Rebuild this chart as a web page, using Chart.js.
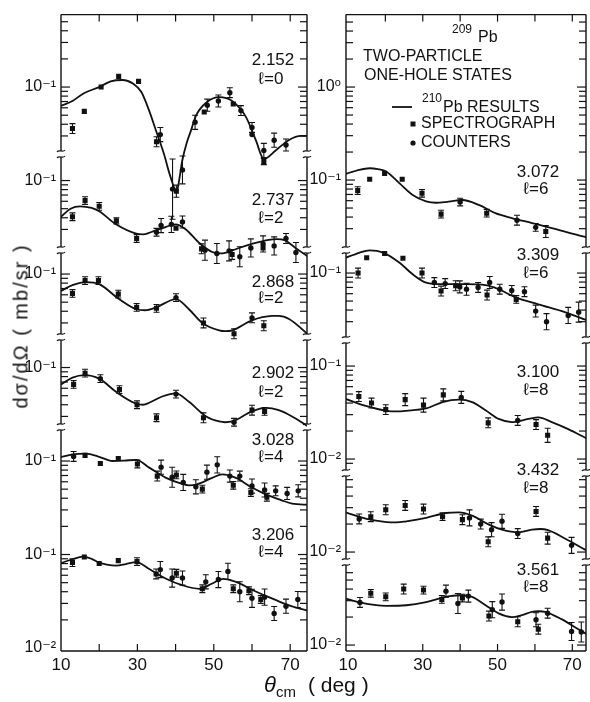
<!DOCTYPE html>
<html>
<head>
<meta charset="utf-8">
<script src="https://cdn.jsdelivr.net/npm/chart.js@4.4.1/dist/chart.umd.min.js"></script>
<style>
  body { margin: 0; background: #fff; }
  #wrap { position: relative; width: 590px; height: 702px; overflow: hidden; background: #fff; }
  canvas { position: absolute; top: 0; }
  #left { left: 0; }
  #right { left: 310px; }
  .title { position: absolute; font-family: "Liberation Sans", Arial, sans-serif; color: #111; white-space: nowrap; }
  #ytitle { left: 21px; top: 326px; font-size: 20px; letter-spacing: 2px; transform: translate(-50%, -50%) rotate(-90deg); }
  #xtitle { left: 264px; top: 672px; font-size: 21px; }
  #xtitle i { font-size: 22px; }
  #xtitle sub { font-size: 15px; vertical-align: -5px; margin-right: 12px; }
</style>
</head>
<body>
<div id="wrap">
  <canvas id="left" width="320" height="702"></canvas>
  <canvas id="right" width="280" height="702"></canvas>
  <div class="title" id="ytitle">dσ/dΩ ( mb/sr )</div>
  <div class="title" id="xtitle"><i>θ</i><sub>cm</sub>( deg )</div>
</div>
<script>
var INK = '#111';

// curves: [theta_cm (deg), dsigma/dOmega (mb/sr)]
var fit2152 = [[10,0.063],[13,0.071],[16,0.086],[20,0.100],[23,0.115],[26,0.119],[29,0.108],[31,0.089],[33,0.057],[35,0.033],[37,0.019],[38.5,0.0115],[40.3,0.0077],[41,0.0105],[41.7,0.016],[43,0.026],[44,0.034],[45.4,0.050],[48,0.068],[51.4,0.078],[54.8,0.071],[58.4,0.048],[61,0.027],[63.1,0.017],[66.2,0.021],[69.6,0.027],[72.8,0.030],[75,0.030]];
var fit2737 = [[10,0.041],[12.5,0.050],[15,0.053],[18,0.051],[20,0.047],[24.4,0.034],[29.7,0.027],[31.5,0.0265],[33.5,0.028],[37.5,0.032],[40,0.034],[42.7,0.030],[46.2,0.0215],[49.6,0.0172],[51.5,0.0166],[53.5,0.0171],[56.6,0.019],[60,0.021],[64.4,0.0232],[66.5,0.0236],[68.5,0.0231],[71.4,0.019],[75,0.015]];
var fit2868 = [[10,0.066],[13,0.076],[16.5,0.082],[20,0.078],[25.2,0.054],[29.7,0.042],[32,0.041],[34.9,0.044],[40.1,0.054],[43.5,0.042],[47,0.030],[51.4,0.025],[53,0.0245],[54.8,0.025],[60,0.032],[65.3,0.0356],[67,0.0357],[69.7,0.033],[75,0.022]];
var fit2902 = [[10,0.066],[13,0.078],[16.1,0.083],[20,0.076],[24.4,0.055],[29.7,0.041],[31.5,0.040],[33.1,0.042],[36.5,0.049],[40.1,0.053],[43.5,0.043],[48,0.030],[51.4,0.0265],[53,0.026],[54.8,0.0265],[60,0.034],[63.6,0.037],[67,0.035],[70.5,0.030],[75,0.023]];
var fit3028 = [[10,0.11],[13,0.118],[16.6,0.12],[20,0.111],[23.5,0.100],[26.5,0.101],[29.7,0.103],[33.1,0.085],[37.5,0.066],[41.7,0.057],[43.5,0.055],[45.4,0.056],[49.6,0.066],[52.2,0.072],[55.8,0.066],[60,0.052],[63.6,0.044],[67.8,0.038],[70.5,0.035],[75,0.034]];
var fit3206 = [[10,0.081],[13,0.089],[15.7,0.095],[18,0.090],[20,0.082],[22,0.078],[24.4,0.076],[27,0.079],[29.7,0.083],[33.1,0.070],[37.5,0.055],[41.7,0.047],[46.2,0.043],[49.6,0.049],[52.5,0.055],[55.8,0.051],[60,0.042],[64.4,0.035],[68.8,0.0295],[72.3,0.0265],[75,0.025]];
var fit3072 = [[9,0.115],[13,0.129],[15.8,0.134],[18,0.131],[20.3,0.123],[23.8,0.092],[27.3,0.069],[30.9,0.059],[33.5,0.057],[36.2,0.058],[40.6,0.061],[45,0.054],[49.4,0.044],[53.8,0.039],[59.2,0.0345],[64.5,0.0305],[71.5,0.0256],[74,0.0242]];
var fit3309 = [[9,0.144],[13,0.165],[15.8,0.175],[19.4,0.166],[23.8,0.129],[27.3,0.097],[30.9,0.079],[35.3,0.076],[41.5,0.076],[46.8,0.074],[50.3,0.067],[54.7,0.055],[60.9,0.046],[68,0.038],[74,0.031]];
var fit3100 = [[9,0.045],[15,0.037],[20.3,0.033],[23,0.0325],[25.6,0.033],[30.9,0.035],[35.3,0.041],[39.7,0.0435],[43.2,0.041],[46.8,0.0335],[50.3,0.027],[53.8,0.025],[58.3,0.027],[60.9,0.028],[64.5,0.025],[68.9,0.021],[74,0.0165]];
var fit3432 = [[9,0.027],[15,0.0227],[20.3,0.021],[23,0.0208],[25.6,0.0214],[30.9,0.0233],[36.2,0.0263],[39.7,0.0267],[43.2,0.0246],[47.7,0.0197],[51.2,0.0174],[55.6,0.0163],[59.2,0.0174],[61.5,0.0177],[63.5,0.0172],[68,0.014],[74,0.0103]];
var fit3561 = [[9,0.032],[13.2,0.0287],[17,0.027],[20.3,0.0264],[25.6,0.0268],[30.9,0.029],[36.2,0.033],[39.7,0.0343],[43.2,0.033],[46.8,0.0268],[50.3,0.0219],[53.8,0.020],[56.5,0.021],[59.2,0.0228],[61,0.0231],[62.7,0.0228],[67.1,0.019],[71.5,0.0149],[74,0.013]];

// spectrograph (squares) and counters (dots): [theta, dsigma/dOmega, relative error]
var spec2152 = [[13.0,0.036,0.13],[16.1,0.055,0],[20.5,0.100,0],[25.1,0.130,0],[30.3,0.115,0],[35.0,0.026,0.13],[40.2,0.0077,0.16],[47.5,0.054,0],[55.1,0.066,0],[63.1,0.016,0.08]];
var cnt2152 = [[36.0,0.031,0.19],[39.2,0.0081,1.1],[41.8,0.013,0.41],[45.1,0.042,0.19],[48.3,0.064,0.16],[51.2,0.071,0.16],[54.2,0.087,0.13],[57.1,0.056,0.13],[60.0,0.037,0.13],[60.0,0.031,0],[63.1,0.021,0.19],[65.8,0.027,0.19],[68.9,0.024,0.16]];
var spec2737 = [[13.0,0.041,0.10],[16.3,0.061,0.10],[20.0,0.053,0.10],[24.5,0.037,0.08],[29.8,0.024,0.10],[40.1,0.031,0],[46.8,0.0186,0.13],[54.8,0.0162,0.13],[62.9,0.019,0]];
var cnt2737 = [[35.0,0.028,0.10],[36.2,0.033,0.19],[38.9,0.034,0.22],[41.8,0.036,0.16],[47.7,0.018,0.28],[50.8,0.0166,0.28],[54.0,0.0177,0.28],[56.8,0.0153,0.28],[59.7,0.019,0.25],[62.9,0.021,0.22],[65.8,0.020,0.25],[68.9,0.024,0.13],[71.5,0.017,0.28]];
var spec2868 = [[13.0,0.062,0.10],[16.3,0.085,0.10],[19.8,0.085,0.10],[25.0,0.061,0.10],[29.8,0.044,0.10],[35.0,0.043,0.10],[47.3,0.030,0.13],[55.3,0.023,0.13],[63.1,0.028,0.13]];
var cnt2868 = [[40.1,0.056,0.10],[60.0,0.034,0.13]];
var spec2902 = [[13.3,0.066,0.10],[16.3,0.087,0.10],[25.3,0.058,0.10],[29.9,0.040,0.10],[35.0,0.029,0.10],[47.3,0.029,0.13],[60.0,0.035,0.13],[63.3,0.034,0.10]];
var cnt2902 = [[20.3,0.076,0.10],[40.1,0.052,0.10],[55.3,0.026,0.10]];
var spec3028 = [[16.3,0.115,0],[20.3,0.094,0],[25.0,0.106,0],[30.0,0.093,0.10],[35.2,0.069,0.13],[40.2,0.071,0.10],[47.0,0.050,0.10],[55.1,0.055,0.10],[59.7,0.046,0.10],[63.9,0.041,0.10]];
var cnt3028 = [[13.3,0.112,0.13],[36.2,0.086,0.19],[39.1,0.067,0.28],[42.0,0.059,0.22],[45.3,0.053,0.19],[48.2,0.076,0.19],[50.9,0.091,0.22],[54.2,0.069,0.16],[56.8,0.069,0.13],[60.0,0.054,0.19],[63.3,0.049,0.19],[66.2,0.048,0.13],[69.2,0.045,0.16],[72.1,0.048,0.16]];
var spec3206 = [[13.0,0.082,0.10],[16.1,0.094,0],[20.0,0.080,0],[25.0,0.086,0],[29.9,0.084,0.10],[34.9,0.062,0.13],[40.2,0.063,0.10],[47.0,0.043,0.10],[55.1,0.043,0.10],[59.2,0.041,0.10],[62.3,0.033,0.10]];
var cnt3206 = [[36.0,0.069,0.22],[39.1,0.056,0.25],[41.8,0.056,0.19],[47.9,0.051,0.19],[51.2,0.054,0.22],[53.7,0.066,0.22],[56.8,0.040,0.28],[60.0,0.034,0.25],[63.3,0.035,0.22],[65.8,0.0234,0.19],[68.9,0.028,0.19],[72.0,0.033,0.22]];
var spec3072 = [[12.6,0.077,0.10],[15.8,0.102,0],[19.8,0.118,0],[24.5,0.102,0],[29.8,0.072,0.10],[34.9,0.043,0.10],[47.1,0.044,0.10],[62.9,0.028,0.16]];
var cnt3072 = [[40.0,0.058,0.10],[55.2,0.037,0.13],[60.2,0.031,0.10]];
var spec3309 = [[12.7,0.100,0.13],[15.0,0.146,0],[19.8,0.162,0],[24.7,0.144,0],[29.8,0.100,0.13],[34.9,0.064,0.13],[38.8,0.073,0.13],[47.2,0.058,0.13],[55.0,0.052,0.10]];
var cnt3309 = [[33.1,0.079,0.13],[36.0,0.077,0.13],[39.9,0.071,0.16],[41.7,0.067,0.16],[44.8,0.070,0.13],[47.9,0.079,0.16],[50.6,0.067,0.13],[53.8,0.065,0.13],[57.2,0.063,0.13],[60.2,0.039,0.16],[63.1,0.030,0.22],[68.9,0.035,0.22],[71.7,0.038,0.28]];
var spec3100 = [[12.9,0.047,0.13],[16.3,0.040,0.13],[20.1,0.034,0.13],[25.3,0.0435,0.16],[30.2,0.038,0.19],[35.5,0.049,0.16],[47.5,0.0245,0.13],[60.3,0.0235,0.13],[63.4,0.018,0.19]];
var cnt3100 = [[40.3,0.046,0.16],[55.4,0.026,0.13]];
var spec3432 = [[16.1,0.024,0.13],[20.1,0.0285,0.13],[25.3,0.0317,0.13],[30.2,0.029,0.13],[35.3,0.024,0.10],[40.6,0.0223,0.13],[47.5,0.0129,0.13],[60.3,0.0273,0.13],[63.4,0.0141,0.16]];
var cnt3432 = [[13.0,0.0227,0.13],[42.5,0.0233,0.22],[45.5,0.020,0.13],[48.4,0.0174,0.19],[51.2,0.0214,0.19],[55.4,0.0158,0.13],[69.8,0.0118,0.22]];
var spec3561 = [[16.1,0.036,0.10],[20.1,0.033,0.10],[24.9,0.040,0.13],[30.2,0.039,0.10],[35.1,0.031,0.10],[40.6,0.032,0.10],[47.7,0.0205,0.13],[55.4,0.0178,0.13],[60.9,0.0148,0.13]];
var cnt3561 = [[13.2,0.0287,0.13],[36.2,0.038,0.16],[39.4,0.028,0.28],[42.2,0.0336,0.16],[48.6,0.024,0.22],[51.2,0.029,0.22],[60.3,0.0187,0.19],[63.4,0.022,0.13],[69.8,0.014,0.25],[72.4,0.0138,0.28]];

// states, orbital l and decade shift used to stack the curves
var leftEnergies = ['2.152','2.737','2.868','2.902','3.028','3.206'];
var leftL = [0,2,2,2,4,4];
var leftShift = [5,4,3,2,1,0];
var rightEnergies = ['3.072','3.309','3.100','3.432','3.561'];
var rightL = [6,6,8,8,8];
var rightShift = [2,1,0,-1,-2];

// y tick labels (axis value -> printed label)
var leftTickVals = [1e4,1e3,1e2,1e1,1e0,1e-1,1e-2];
var leftTickText = ['10\u207B\u00B9','10\u207B\u00B9','10\u207B\u00B9','10\u207B\u00B9','10\u207B\u00B9','10\u207B\u00B9','10\u207B\u00B2'];
var rightTickVals = [1e2,1e1,1e0,1e-1,1e-2,1e-3,1e-4];
var rightTickText = ['10\u2070','10\u207B\u00B9','10\u207B\u00B9','10\u207B\u00B9','10\u207B\u00B2','10\u207B\u00B2','10\u207B\u00B2'];
var xTickVals = [10,30,50,70];

Chart.defaults.font.family = '"Liberation Sans", "DejaVu Sans", sans-serif';
Chart.defaults.color = INK;

function buildSets(fits, specs, cnts, shifts) {
    var sets = [];
    fits.forEach((fit, i) => {
        var k = Math.pow(10, shifts[i]);
        sets.push({
            type: 'line',
            data: fit.map(p => ({ x: p[0], y: p[1] * k })),
            borderColor: INK, borderWidth: 1.8, pointRadius: 0,
            cubicInterpolationMode: 'monotone', fill: false
        });
        sets.push({
            type: 'scatter',
            data: specs[i].map(p => ({ x: p[0], y: p[1] * k })),
            rel: specs[i].map(p => p[2]),
            pointStyle: 'rect', pointRadius: 3.6,
            backgroundColor: INK, borderColor: INK, borderWidth: 0
        });
        sets.push({
            type: 'scatter',
            data: cnts[i].map(p => ({ x: p[0], y: p[1] * k })),
            rel: cnts[i].map(p => p[2]),
            pointStyle: 'circle', pointRadius: 2.7,
            backgroundColor: INK, borderColor: INK, borderWidth: 0
        });
    });
    return sets;
}

function put(ctx, s, x, y, size, align) {
    ctx.font = size + 'px "Liberation Sans", "DejaVu Sans", sans-serif';
    ctx.textAlign = align || 'left';
    ctx.textBaseline = 'middle';
    ctx.fillStyle = INK;
    ctx.fillText(s, x, y);
}

function seg(ctx, x1, y1, x2, y2) {
    ctx.beginPath();
    ctx.moveTo(x1, y1);
    ctx.lineTo(x2, y2);
    ctx.stroke();
}

function framePlugin(opt) {
    return {
        id: 'frame',
        afterDatasetsDraw(chart) {
            var ctx = chart.ctx, a = chart.chartArea, xs = chart.scales.x, ys = chart.scales.y;
            ctx.save();
            ctx.beginPath();
            ctx.rect(a.left, a.top, a.right - a.left, a.bottom - a.top);
            ctx.clip();
            ctx.strokeStyle = INK;
            ctx.lineWidth = 1.1;
            chart.data.datasets.forEach(ds => {
                if (!ds.rel) return;
                ds.data.forEach((p, j) => {
                    var e = ds.rel[j];
                    if (!e) return;
                    var x = xs.getPixelForValue(p.x);
                    var y1 = ys.getPixelForValue(p.y * (1 + e));
                    var y2 = ys.getPixelForValue(p.y / (1 + e));
                    seg(ctx, x, y1, x, y2);
                    seg(ctx, x - 3, y1, x + 3, y1);
                    seg(ctx, x - 3, y2, x + 3, y2);
                });
            });
            ctx.restore();
        },
        afterDraw(chart) {
            var ctx = chart.ctx, a = chart.chartArea, xs = chart.scales.x, ys = chart.scales.y;
            ctx.save();
            ctx.strokeStyle = INK;
            ctx.lineWidth = 1.4;
            seg(ctx, a.left, a.top, a.right, a.top);
            seg(ctx, a.left, a.bottom, a.right, a.bottom);

            // side lines, cut where the stacked panels meet
            var cuts = [a.top];
            opt.breaks.forEach(b => { cuts.push(b - 3, b + 3); });
            cuts.push(a.bottom);
            for (var i = 0; i < cuts.length; i += 2) {
                seg(ctx, a.left, cuts[i], a.left, cuts[i + 1]);
                seg(ctx, a.right, cuts[i], a.right, cuts[i + 1]);
            }
            ctx.lineWidth = 1.2;
            opt.breaks.forEach(b => {
                [a.left, a.right].forEach(x => {
                    [b - 3, b + 3].forEach(y => {
                        ctx.beginPath();
                        ctx.moveTo(x - 4, y + 1);
                        ctx.bezierCurveTo(x - 2, y - 2, x + 2, y + 2, x + 4, y - 1);
                        ctx.stroke();
                    });
                });
            });

            // inward ticks
            ctx.lineWidth = 1.2;
            for (var t = 20; t <= 70; t += 10) {
                var x = xs.getPixelForValue(t);
                seg(ctx, x, a.top, x, a.top + 7);
                seg(ctx, x, a.bottom, x, a.bottom - 7);
            }
            var lo = Math.floor(Math.log10(ys.min)), hi = Math.ceil(Math.log10(ys.max));
            for (var n = lo; n <= hi; n++) {
                for (var m = 1; m <= 9; m++) {
                    var v = m * Math.pow(10, n);
                    if (v < ys.min || v > ys.max) continue;
                    var y = ys.getPixelForValue(v);
                    if (y < a.top + 3 || y > a.bottom - 3) continue;
                    if (opt.breaks.some(b => Math.abs(y - b) < 6)) continue;
                    var len = m === 1 ? 9 : 7;
                    seg(ctx, a.left, y, a.left + len, y);
                    seg(ctx, a.right, y, a.right - len, y);
                }
            }

            // state labels
            opt.energies.forEach((s, i) => {
                put(ctx, s, opt.labelX, opt.labelY[i][0], 17, 'center');
                put(ctx, '\u2113=' + opt.ls[i], opt.labelX - 2, opt.labelY[i][1], 17, 'center');
            });

            if (opt.legend) {
                put(ctx, '209', 142, 30, 12);
                put(ctx, 'Pb', 168, 38, 16);
                put(ctx, 'TWO-PARTICLE', 53, 57, 16);
                put(ctx, 'ONE-HOLE STATES', 54, 76, 16);
                ctx.lineWidth = 1.8;
                seg(ctx, 82, 107, 102, 107);
                put(ctx, '210', 112, 99, 12);
                put(ctx, 'Pb RESULTS', 133, 108, 16);
                ctx.fillStyle = INK;
                ctx.fillRect(100.5, 121.5, 5, 5);
                put(ctx, 'SPECTROGRAPH', 111, 124, 16);
                ctx.beginPath();
                ctx.arc(103, 143, 2.6, 0, Math.PI * 2);
                ctx.fill();
                put(ctx, 'COUNTERS', 111, 143, 16);
            }
            ctx.restore();
        }
    };
}

function makeChart(id, sets, cfg) {
    return new Chart(document.getElementById(id), {
        type: 'scatter',
        data: { datasets: sets },
        options: {
            responsive: false,
            animation: false,
            layout: { padding: { top: 10, right: cfg.padRight, left: 0, bottom: 0 } },
            plugins: { legend: { display: false }, tooltip: { enabled: false } },
            scales: {
                x: {
                    type: 'linear', min: cfg.xMin, max: cfg.xMax,
                    grid: { display: false, drawTicks: false }, border: { display: false },
                    afterBuildTicks: s => { s.ticks = xTickVals.map(v => ({ value: v })); },
                    afterFit: s => { s.height = 51; },
                    ticks: { autoSkip: false, maxRotation: 0, padding: 4, font: { size: 17 }, color: INK }
                },
                y: {
                    type: 'logarithmic', min: cfg.yMin, max: cfg.yMax,
                    grid: { display: false, drawTicks: false }, border: { display: false },
                    afterBuildTicks: s => { s.ticks = cfg.tickVals.map(v => ({ value: v })); },
                    afterFit: s => { s.width = cfg.yWidth; },
                    ticks: {
                        autoSkip: false, padding: 5, font: { size: 16 }, color: INK,
                        callback: (v, i) => cfg.tickText[i]
                    }
                }
            }
        },
        plugins: [framePlugin(cfg)]
    });
}

makeChart('left',
    buildSets([fit2152, fit2737, fit2868, fit2902, fit3028, fit3206],
              [spec2152, spec2737, spec2868, spec2902, spec3028, spec3206],
              [cnt2152, cnt2737, cnt2868, cnt2902, cnt3028, cnt3206], leftShift),
    {
        xMin: 10, xMax: 74.4, yMin: Math.pow(10, -2.032), yMax: Math.pow(10, 4.775),
        yWidth: 61, padRight: 13,
        tickVals: leftTickVals, tickText: leftTickText,
        breaks: [154, 250, 337, 427],
        energies: leftEnergies, ls: leftL, labelX: 273,
        labelY: [[60, 79], [200, 218], [282, 298], [373, 392], [440, 457], [535, 552]],
        legend: false
    });

makeChart('right',
    buildSets([fit3072, fit3309, fit3100, fit3432, fit3561],
              [spec3072, spec3309, spec3100, spec3432, spec3561],
              [cnt3072, cnt3309, cnt3100, cnt3432, cnt3561], rightShift),
    {
        xMin: 9.47, xMax: 73.66, yMin: Math.pow(10, -4.064), yMax: Math.pow(10, 2.779),
        yWidth: 36, padRight: 2,
        tickVals: rightTickVals, tickText: rightTickText,
        breaks: [250, 340, 473, 562],
        energies: rightEnergies, ls: rightL, labelX: 228,
        labelY: [[172, 189], [255, 273], [372, 390], [470, 488], [570, 587]],
        legend: true
    });
</script>
</body>
</html>
